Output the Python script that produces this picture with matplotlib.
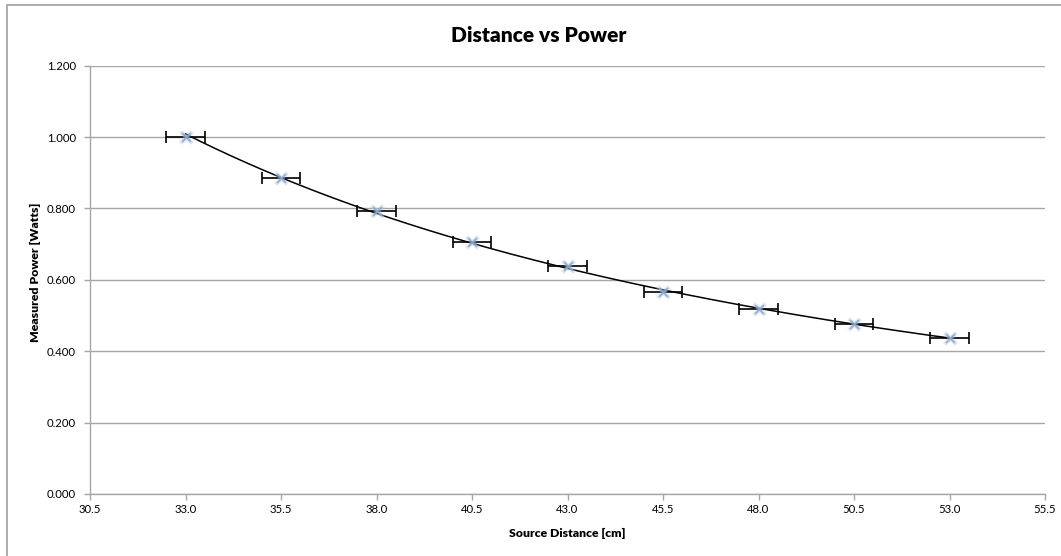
import numpy as np
import matplotlib
matplotlib.use("Agg")
import matplotlib.pyplot as plt
from matplotlib.patches import Rectangle

# Data
distance_cm = [33.0, 35.5, 38.0, 40.5, 43.0, 45.5, 48.0, 50.5, 53.0]
power_w = [1.000, 0.885, 0.793, 0.706, 0.640, 0.567, 0.518, 0.475, 0.437]
distance_err = [0.5] * len(distance_cm)
x_ticks = [30.5, 33.0, 35.5, 38.0, 40.5, 43.0, 45.5, 48.0, 50.5, 53.0, 55.5]
y_ticks = [0.0, 0.2, 0.4, 0.6, 0.8, 1.0, 1.2]

plt.rcParams['font.family'] = ['Lato', 'DejaVu Sans']

W, H = 1061, 556
fig = plt.figure(figsize=(W / 100, H / 100), dpi=100)
ax = fig.add_axes([90 / W, 1 - 494 / H, (1045 - 90) / W, (494 - 65.7) / H])

# chart area border (top/left visible)
fig.patches.append(Rectangle((6.5 / W, -0.1), 1.2, 1 - 5 / H + 0.1,
                             transform=fig.transFigure, fill=False,
                             edgecolor='#a6a6a6', linewidth=1.3))

# Power trendline fit
x = np.array(distance_cm)
y = np.array(power_w)
b, lna = np.polyfit(np.log(x), np.log(y), 1)
xf = np.linspace(x.min(), x.max(), 200)
ax.plot(xf, np.exp(lna) * xf ** b, color='black', linewidth=1.1, zorder=3)

ax.errorbar(distance_cm, power_w, xerr=distance_err, fmt='none',
            ecolor='black', elinewidth=1.2, capsize=4, capthick=1.2, zorder=4)
ax.scatter(distance_cm, power_w, marker='x', s=70, color='#b3c7e0',
           linewidths=3, alpha=0.45, zorder=5)
ax.scatter(distance_cm, power_w, marker='x', s=40, color='#8aa8cf',
           linewidths=1.3, alpha=0.9, zorder=6)

ax.set_xlim(30.5, 55.5)
ax.set_ylim(0, 1.2)
ax.set_xticks(x_ticks)
ax.set_xticklabels([f"{v:.1f}" for v in x_ticks])
ax.set_yticks(y_ticks)
ax.set_yticklabels([f"{v:.3f}" for v in y_ticks])
ax.yaxis.grid(True, color='#a6a6a6', linewidth=1.0)
ax.set_axisbelow(True)
for s in ['top', 'right']:
    ax.spines[s].set_visible(False)
for s in ['left', 'bottom']:
    ax.spines[s].set_color('#a6a6a6')
    ax.spines[s].set_linewidth(1.0)
ax.tick_params(axis='both', colors='#a6a6a6', labelcolor='black',
               labelsize=8.2, length=4, direction='out', width=1.0)
ax.tick_params(axis='y', pad=6)
ax.tick_params(axis='x', pad=3)

fig.text(35 / W, 1 - 272 / H, 'Measured Power [Watts]', rotation=90,
         fontsize=8.8, fontweight='heavy', ha='center', va='center')
fig.text(567 / W, 1 - 533 / H, 'Source Distance [cm]', fontsize=8.8,
         fontweight='heavy', ha='center', va='center')
fig.text(539 / W, 1 - 35 / H, 'Distance vs Power', fontsize=15,
         fontweight='heavy', ha='center', va='center')

fig.savefig('out.png', dpi=100)
